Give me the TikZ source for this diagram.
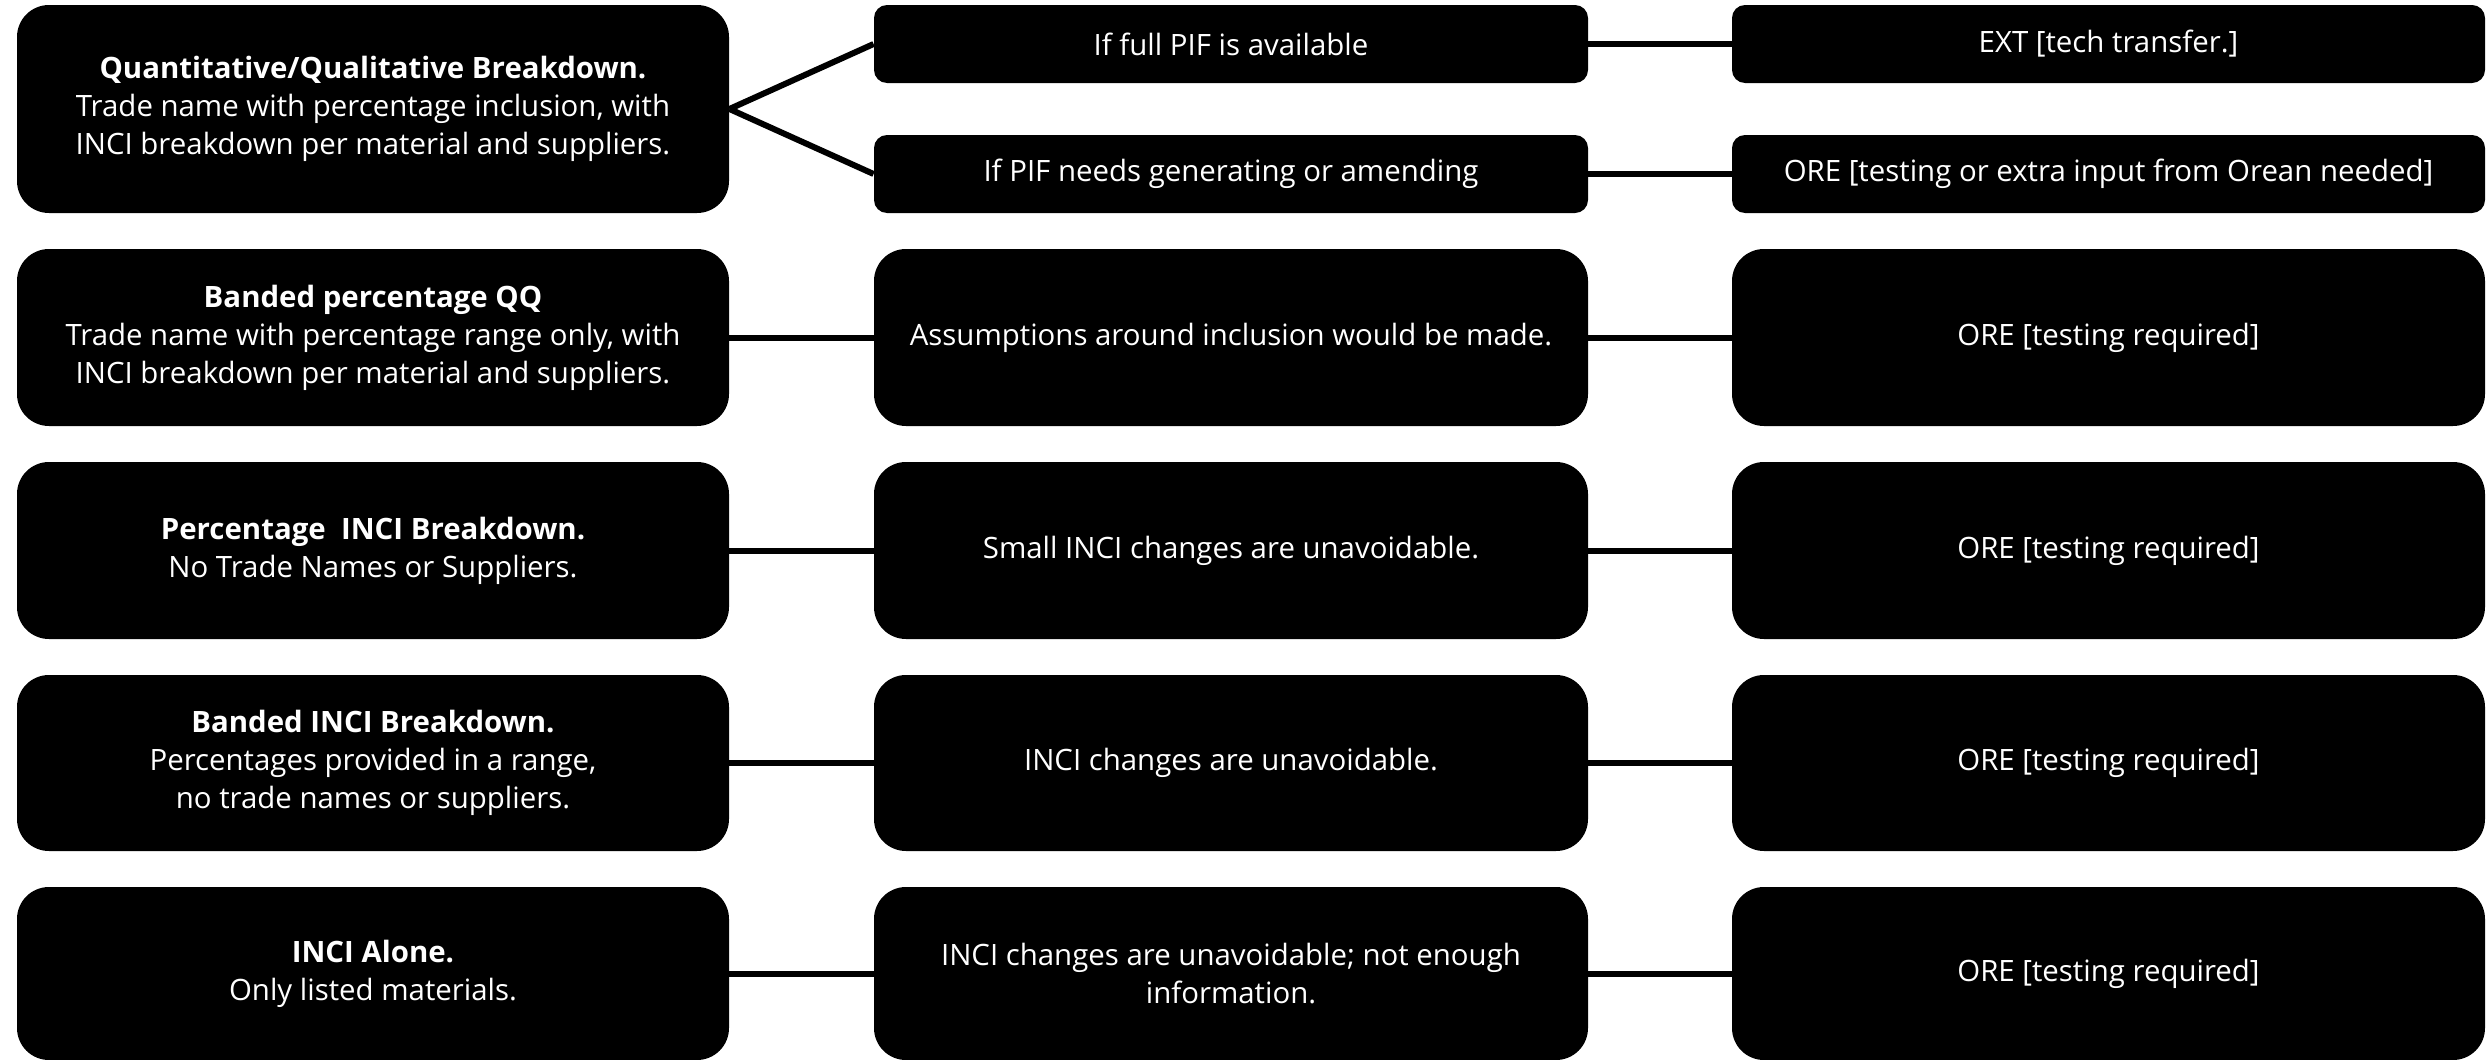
\documentclass[tikz,border=0pt]{standalone}
\usepackage{fontspec}
\setmainfont{Open Sans}
\begin{document}
\begin{tikzpicture}[x=0.5pt,y=-0.5pt,
  every node/.style={fill=black,text=white,align=center,inner sep=0pt,
    font=\fontsize{14.7}{19}\selectfont},
  bigbox/.style={rounded corners=16pt},
  smallbox/.style={rounded corners=6.5pt},
  cA/.style={minimum width=356pt},
  cB/.style={minimum width=357pt},
  cC/.style={minimum width=376.5pt},
  conn/.style={line width=3pt,black}]
\useasboundingbox (0,0) rectangle (2486,1060);
% row 1
\node[bigbox,cA,minimum height=104pt] (q1) at (373,109) {\textbf{Quantitative/Qualitative Breakdown.}\\Trade name with percentage inclusion, with\\INCI breakdown per material and suppliers.};
\node[smallbox,cB,minimum height=39pt] (p1a) at (1231,44) {If full PIF is available};
\node[smallbox,cB,minimum height=39pt] (p1b) at (1231,174) {If PIF needs generating or amending};
\node[smallbox,cC,minimum height=39pt] (r1a) at (2108.5,44) {EXT [tech transfer.]};
\node[smallbox,cC,minimum height=39pt] (r1b) at (2108.5,174) {ORE [testing or extra input from Orean needed]};
% row 2
\node[bigbox,cA,minimum height=88.5pt] (q2) at (373,337.5) {\textbf{Banded percentage QQ}\\Trade name with percentage range only, with\\INCI breakdown per material and suppliers.};
\node[bigbox,cB,minimum height=88.5pt] (m2) at (1231,337.5) {Assumptions around inclusion would be made.};
\node[bigbox,cC,minimum height=88.5pt] (r2) at (2108.5,337.5) {ORE [testing required]};
% row 3
\node[bigbox,cA,minimum height=88.5pt] (q3) at (373,550.5) {\textbf{Percentage~~INCI Breakdown.}\\No Trade Names or Suppliers.};
\node[bigbox,cB,minimum height=88.5pt] (m3) at (1231,550.5) {Small INCI changes are unavoidable.};
\node[bigbox,cC,minimum height=88.5pt] (r3) at (2108.5,550.5) {ORE [testing required]};
% row 4
\node[bigbox,cA,minimum height=88pt] (q4) at (373,763) {\textbf{Banded INCI Breakdown.}\\Percentages provided in a range,\\no trade names or suppliers.};
\node[bigbox,cB,minimum height=88pt] (m4) at (1231,763) {INCI changes are unavoidable.};
\node[bigbox,cC,minimum height=88pt] (r4) at (2108.5,763) {ORE [testing required]};
% row 5
\node[bigbox,cA,minimum height=86.5pt] (q5) at (373,973.5) {\textbf{INCI Alone.}\\Only listed materials.};
\node[bigbox,cB,minimum height=86.5pt] (m5) at (1231,973.5) {INCI changes are unavoidable; not enough\\information.};
\node[bigbox,cC,minimum height=86.5pt] (r5) at (2108.5,973.5) {ORE [testing required]};
% connectors
\draw[conn] (q1.east) -- (p1a.west);
\draw[conn] (q1.east) -- (p1b.west);
\draw[conn] (p1a.east) -- (r1a.west);
\draw[conn] (p1b.east) -- (r1b.west);
\foreach \i in {2,3,4,5}{
  \draw[conn] (q\i.east) -- (m\i.west);
  \draw[conn] (m\i.east) -- (r\i.west);
}
\end{tikzpicture}
\end{document}
